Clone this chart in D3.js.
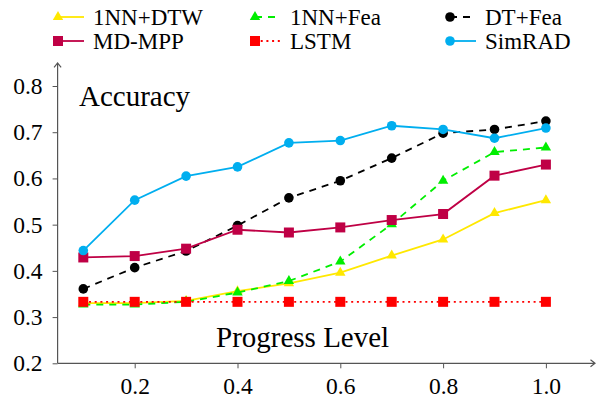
<!DOCTYPE html>
<html>
<head>
<meta charset="utf-8">
<script src="https://cdn.jsdelivr.net/npm/d3@7/dist/d3.min.js"></script>
<style>
  body { margin: 0; background: #fff; }
  svg { display: block; }
</style>
</head>
<body>
<svg id="chart" width="596" height="400"></svg>
<script>
// Progress levels (x) and accuracy per method
const progress = [0.1, 0.2, 0.3, 0.4, 0.5, 0.6, 0.7, 0.8, 0.9, 1.0];
const nnDtw  = [0.330, 0.330, 0.335, 0.356, 0.373, 0.396, 0.433, 0.468, 0.525, 0.553];
const nnFea  = [0.327, 0.327, 0.333, 0.353, 0.378, 0.420, 0.501, 0.595, 0.657, 0.667];
const dtFea  = [0.361, 0.407, 0.443, 0.498, 0.558, 0.595, 0.644, 0.698, 0.706, 0.724];
const mdMpp  = [0.429, 0.432, 0.448, 0.489, 0.483, 0.494, 0.510, 0.523, 0.606, 0.630];
const lstm   = [0.333, 0.333, 0.333, 0.333, 0.333, 0.333, 0.333, 0.333, 0.333, 0.333];
const simRad = [0.444, 0.553, 0.605, 0.625, 0.677, 0.682, 0.714, 0.706, 0.687, 0.709];

const seriesNames = ["1NN+DTW", "1NN+Fea", "DT+Fea", "MD-MPP", "LSTM", "SimRAD"];
const seriesValues = [nnDtw, nnFea, dtFea, mdMpp, lstm, simRad];

const xTickValues = [0.2, 0.4, 0.6, 0.8, 1.0];
const yTickValues = [0.2, 0.3, 0.4, 0.5, 0.6, 0.7, 0.8];
const yLabel = "Accuracy";
const xLabel = "Progress Level";

// Drawing style per series
const styles = {
  "1NN+DTW": { color: "#ffe800", dash: null,    marker: "triangle" },
  "1NN+Fea": { color: "#00ee00", dash: "7,6",   marker: "triangle" },
  "DT+Fea":  { color: "#000000", dash: "7,6",   marker: "circle" },
  "MD-MPP":  { color: "#bf0045", dash: null,    marker: "square" },
  "LSTM":    { color: "#ff0000", dash: "2,3.7", marker: "square" },
  "SimRAD":  { color: "#00aeef", dash: null,    marker: "circle" }
};

const FONT = "'Liberation Serif', 'Times New Roman', Times, serif";

const svg = d3.select("#chart");
const W = 596;

const x = d3.scaleLinear().domain([0, 1]).range([31.9, 545.9]);
const y = d3.scaleLinear().domain([0.2, 0.8]).range([363.3, 86.0]);

const axisColor = "#555";

// Axes (ticks + labels), with arrowed axis lines drawn separately
const xAxis = d3.axisBottom(x).tickValues(xTickValues).tickFormat(d3.format(".1f"))
  .tickSize(5).tickSizeOuter(0).tickPadding(9);
const yAxis = d3.axisLeft(y).tickValues(yTickValues).tickFormat(d3.format(".1f"))
  .tickSize(5).tickSizeOuter(0).tickPadding(10);

const x0 = x(0.05), y0 = y(0.2);
const gx = svg.append("g").attr("transform", `translate(0,${y0})`).call(xAxis);
const gy = svg.append("g").attr("transform", `translate(${x0},0)`).call(yAxis);
[gx, gy].forEach(g => {
  g.attr("font-family", FONT).attr("font-size", 23.5);
  g.select(".domain").remove();
  g.selectAll(".tick line").attr("stroke", axisColor).attr("stroke-width", 1);
  g.selectAll(".tick text").attr("fill", "#000")
    .style("font-family", FONT).style("font-size", "23.5px");
});

const xEnd = W - 1, yTop = y(0.85);
svg.append("path")
  .attr("d", `M${x0},${y0}H${xEnd}M${xEnd - 4.5},${y0 - 3.5}L${xEnd},${y0}L${xEnd - 4.5},${y0 + 3.5}`)
  .attr("fill", "none").attr("stroke", axisColor).attr("stroke-width", 1.2);
svg.append("path")
  .attr("d", `M${x0},${y0}V${yTop}M${x0 - 3.5},${yTop + 4.5}L${x0},${yTop}L${x0 + 3.5},${yTop + 4.5}`)
  .attr("fill", "none").attr("stroke", axisColor).attr("stroke-width", 1.2);

// Axis titles placed inside the plot area
svg.append("text").attr("x", 79).attr("y", 106)
  .style("font-family", FONT).style("font-size", "29px").text(yLabel);
svg.append("text").attr("x", 216).attr("y", 347)
  .style("font-family", FONT).style("font-size", "29px").text(xLabel);

// Marker shapes
function markerPath(kind) {
  if (kind === "triangle") {
    const r = 6;
    return `M0,${-r}L${0.866 * r},${0.5 * r}L${-0.866 * r},${0.5 * r}Z`;
  }
  if (kind === "square") {
    const s = 5;
    return `M${-s},${-s}H${s}V${s}H${-s}Z`;
  }
  const r = 4.8;
  return `M${r},0A${r},${r} 0 1,1 ${-r},0A${r},${r} 0 1,1 ${r},0Z`;
}

const line = d3.line().x(d => x(d[0])).y(d => y(d[1]));

seriesNames.forEach((name, i) => {
  const st = styles[name];
  const pts = progress.map((p, j) => [p, seriesValues[i][j]]);
  const g = svg.append("g");
  g.append("path").datum(pts)
    .attr("d", line)
    .attr("fill", "none")
    .attr("stroke", st.color)
    .attr("stroke-width", 1.8)
    .attr("stroke-dasharray", st.dash);
  g.selectAll("path.mk").data(pts).join("path")
    .attr("class", "mk")
    .attr("d", markerPath(st.marker))
    .attr("transform", d => `translate(${x(d[0])},${y(d[1])})`)
    .attr("fill", st.color);
});

// Legend: three columns, two rows
const legendCols = [58, 255, 450];
const legendRows = [17, 41];
const legend = svg.append("g");
seriesNames.forEach((name, i) => {
  const st = styles[name];
  const cx = legendCols[i % 3], cy = legendRows[Math.floor(i / 3)];
  const item = legend.append("g").attr("transform", `translate(${cx},${cy})`);
  item.append("line")
    .attr("x1", 0).attr("x2", 26).attr("y1", 0).attr("y2", 0)
    .attr("stroke", st.color).attr("stroke-width", 1.8)
    .attr("stroke-dasharray", st.dash);
  item.append("path").attr("d", markerPath(st.marker)).attr("fill", st.color);
  item.append("text").attr("x", 35).attr("y", 8)
    .style("font-family", FONT).style("font-size", "23px").text(name);
});
</script>
</body>
</html>
